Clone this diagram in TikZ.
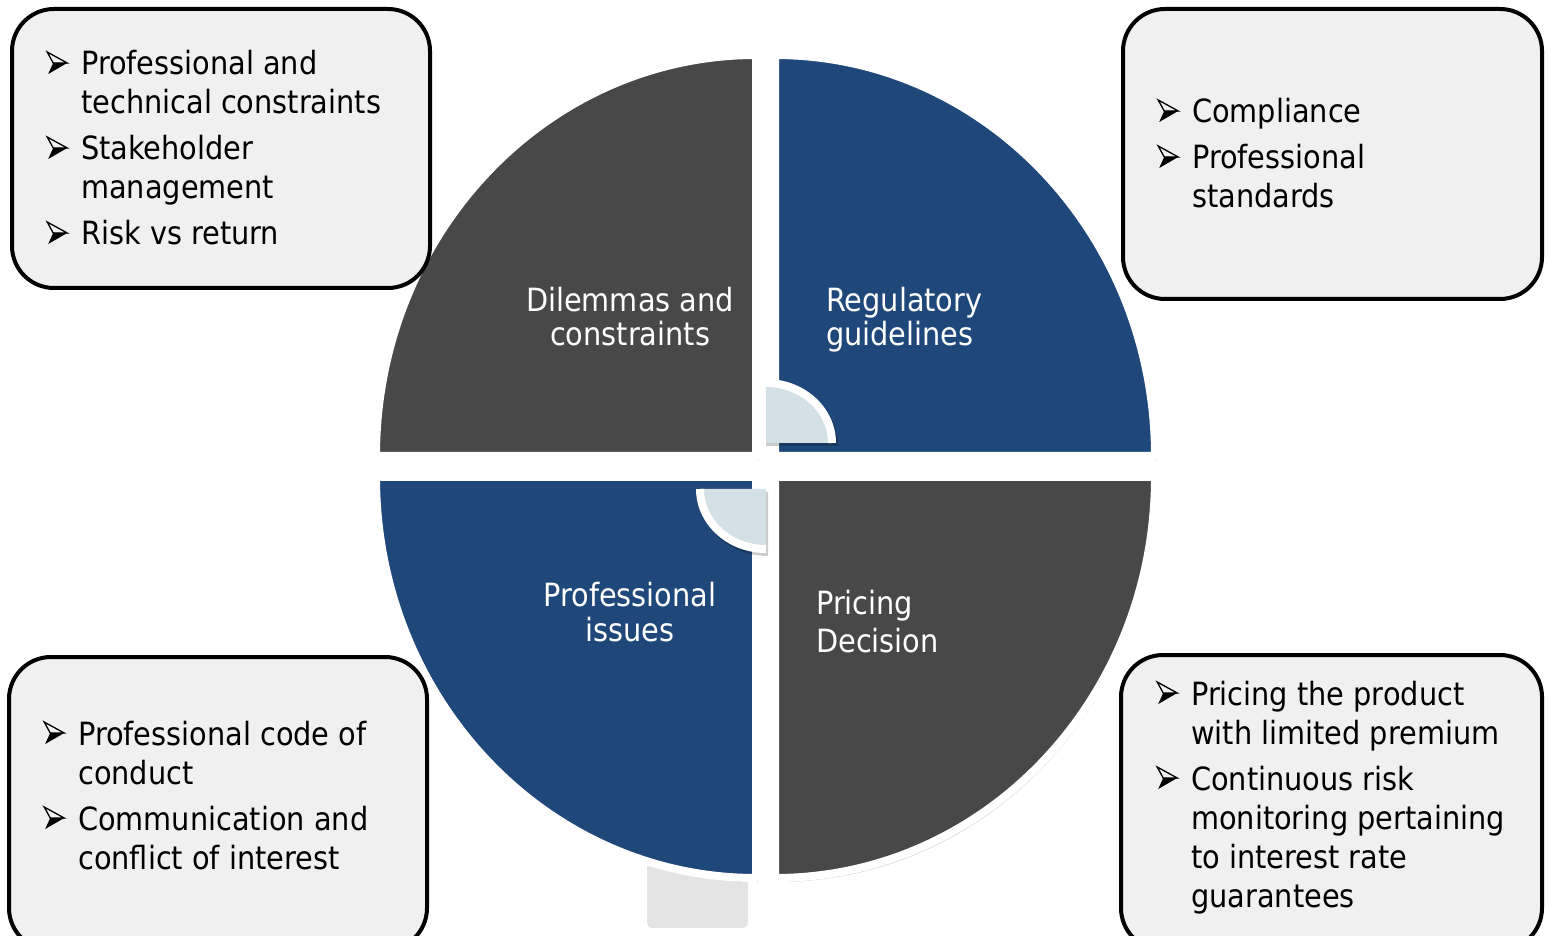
\documentclass[tikz,border=0pt]{standalone}
\usepackage{fontspec}
\setmainfont{DejaVu Sans Condensed}

\definecolor{piecegray}{HTML}{484848}
\definecolor{pieceblue}{HTML}{1F4779}
\definecolor{palehub}{HTML}{D3E0E6}
\definecolor{boxfill}{HTML}{F0F0F0}
\definecolor{plinth}{HTML}{E4E4E4}

% three-d arrowhead bullet: light upper half, dark lower half
\newcommand\arrbullet{\makebox[35pt][l]{\smash{\tikz[x=1pt, y=1pt, baseline=0pt]{%
  \path[use as bounding box] (0,0) rectangle (22,23);
  \draw[black, line width=1.3pt, line join=miter] (1,23) -- (21,12) -- (7,12) -- cycle;
  \fill[black] (7,12) -- (21,12) -- (2,1) -- cycle;}}}}
\newcommand\contindent{\hspace*{35pt}}

\tikzset{
  piece/.style={draw=white, line width=8pt, line join=round},
  pieceshadow/.style={fill=black, opacity=0.22},
  infobox/.style={draw=black, line width=4pt, fill=boxfill, rounded corners=42pt},
  boxtext/.style={anchor=base west, align=left, inner sep=0pt, font=\fontsize{32}{39}\selectfont},
  quadtext/.style={inner sep=0pt, text=white},
  tlshape/.style={insert path={(756,479) -- (376,479) arc[start angle=180, end angle=90, x radius=380pt, y radius=401pt] -- cycle}},
  trshape/.style={insert path={(775,479) -- (775,880) arc[start angle=90, end angle=0, x radius=380pt, y radius=401pt] -- cycle}},
  blshape/.style={insert path={(756,458) -- (376,458) arc[start angle=180, end angle=270, x radius=380pt, y radius=401pt] -- cycle}},
  brshape/.style={insert path={(775,458) -- (1155,458) arc[start angle=0, end angle=-90, x radius=380pt, y radius=401pt] -- cycle}},
}

\begin{document}
\begin{tikzpicture}[x=1pt, y=1pt]
\useasboundingbox (0,0) rectangle (1549,935);

% pedestal peeking out under the wheel
\fill[plinth, rounded corners=5pt] (647,7) rectangle (748,135);

% drop shadows of the four quadrants
\begin{scope}[shift={(2,-4)}]
  \fill[pieceshadow, tlshape];
  \fill[pieceshadow, trshape];
  \fill[pieceshadow, blshape];
  \fill[pieceshadow, brshape];
\end{scope}

% the four quadrants
\path[piece, fill=piecegray, tlshape];
\path[piece, fill=pieceblue, trshape];
\path[piece, fill=pieceblue, blshape];
\path[piece, fill=piecegray, brshape];

% small hub quarters
\fill[black, opacity=0.2] (766,489) -- (838,489) arc[start angle=0, end angle=90, x radius=72pt, y radius=66pt] -- cycle;
\fill[palehub] (766,492) -- (832,492) arc[start angle=0, end angle=90, x radius=66pt, y radius=60pt] -- cycle;
\draw[white, line width=8pt] (832,492) arc[start angle=0, end angle=90, x radius=66pt, y radius=60pt];

\fill[black, opacity=0.2] (768,443) -- (698,443) arc[start angle=180, end angle=270, x radius=70pt, y radius=64pt] -- cycle;
\fill[palehub] (766,446) -- (700,446) arc[start angle=180, end angle=270, x radius=66pt, y radius=60pt] -- cycle;
\draw[white, line width=8pt] (700,446) arc[start angle=180, end angle=270, x radius=66pt, y radius=60pt];

% quadrant titles (anchored at the baseline of their last line)
\node[quadtext, anchor=base, align=center, font=\fontsize{32}{34}\selectfont] (dilemmas) at (630,589) {Dilemmas and\\constraints};
\node[quadtext, anchor=base west, align=left, font=\fontsize{32}{34}\selectfont] (regulatory) at (826,589) {Regulatory\\guidelines};
\node[quadtext, anchor=base, align=center, font=\fontsize{32}{35}\selectfont] (profissues) at (630,294) {Professional\\issues};
\node[quadtext, anchor=base west, align=left, font=\fontsize{32}{38}\selectfont] (pricing) at (816,283) {Pricing\\Decision};

% callout boxes
\path[infobox] (12,647) rectangle (430,926);
\path[infobox] (1123,636) rectangle (1542,926);
\path[infobox] (9,-15) rectangle (427,278);
\path[infobox] (1121,-15) rectangle (1542,280);

\node[boxtext] (tltext) at (46,690) {\arrbullet Professional and\\\contindent technical constraints\\[7pt]\arrbullet Stakeholder\\\contindent management\\[7pt]\arrbullet Risk vs return};
\node[boxtext] (trtext) at (1157,727) {\arrbullet Compliance\\[7pt]\arrbullet Professional\\\contindent standards};
\node[boxtext] (bltext) at (43,66) {\arrbullet Professional code of\\\contindent conduct\\[7pt]\arrbullet Communication and\\\contindent conflict of interest};
\node[boxtext] (brtext) at (1156,28) {\arrbullet Pricing the product\\\contindent with limited premium\\[7pt]\arrbullet Continuous risk\\\contindent monitoring pertaining\\\contindent to interest rate\\\contindent guarantees};
\end{tikzpicture}
\end{document}
